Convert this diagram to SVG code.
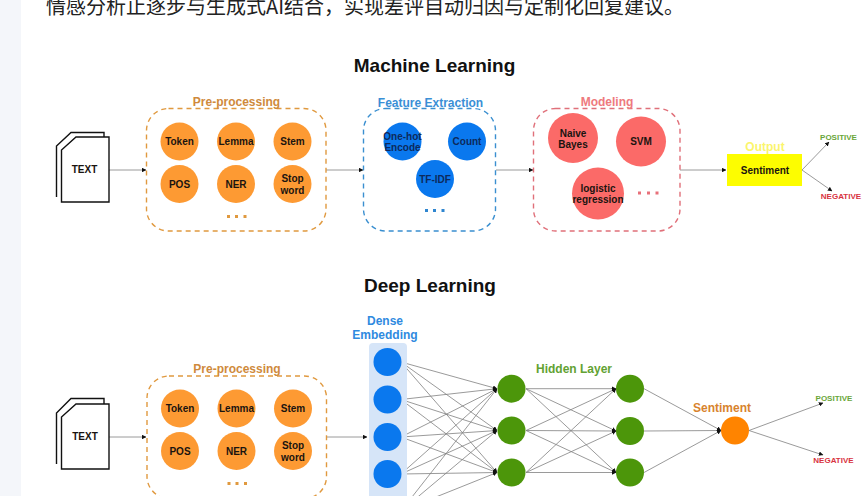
<svg xmlns="http://www.w3.org/2000/svg" width="863" height="496" viewBox="0 0 863 496">
<defs>
<marker id="a" viewBox="0 0 6 6" refX="5.500" refY="3" markerWidth="4.500" markerHeight="4.500" orient="auto" markerUnits="userSpaceOnUse"><path d="M0 0L6 3L0 6Z" fill="#111"/></marker>
</defs>
<style>
text{font-family:"Liberation Sans","Noto Sans CJK SC",sans-serif;font-weight:700;text-anchor:middle;fill:#1a1410}
.para{font-family:"Noto Sans CJK SC","Liberation Sans",sans-serif;font-weight:400;font-size:20px;text-anchor:start;fill:#222}
.title{font-size:19px;fill:#111}
.lab{font-size:12px}
.sm{font-size:10px}
.tiny{font-size:8px}
.doc{fill:#fff;stroke:#111;stroke-width:1.4}
.or{fill:#fd9a33}.bl{fill:#0a78ee}.re{fill:#fb6a68}.gr{fill:#4c960a}
.box{fill:none;stroke-width:1.4;stroke-dasharray:5 4}
.c{stroke:#808080;stroke-width:.8;fill:none;marker-end:url(#a)}
.navy{fill:#0d2a5c}
.pd{fill:#e0993f}.bd{fill:#2f86d0}.rd{fill:#e8707a}
</style>
<rect width="863" height="496" fill="#fff"/>
<rect width="21" height="496" fill="#f4f6fa"/>
<text class="para" x="46" y="14">情感分析止逐步与生成式AI结合，实现差评自动归因与定制化回复建议。</text>
<text class="title" x="434.500" y="72">Machine Learning</text>
<text class="title" x="430" y="292">Deep Learning</text>

<g id="connectors">
<g id="ml-connectors">
<path class="c" d="M109 170H146"/><path class="c" d="M326 170H363"/><path class="c" d="M496 170H533"/><path class="c" d="M680 170H726"/>
<path class="c" d="M802 170L829 142"/><path class="c" d="M802 170L832 191"/>
</g>
<g id="dl-connectors">
<path class="c" d="M109 437H146"/><path class="c" d="M326 437H367"/>
<path class="c" d="M401 362L497 388.700"/><path class="c" d="M401 362L497 430.500"/><path class="c" d="M401 362L497 472.500"/>
<path class="c" d="M401 399.500L497 388.700"/><path class="c" d="M401 399.500L497 430.500"/><path class="c" d="M401 399.500L497 472.500"/>
<path class="c" d="M401 437L497 388.700"/><path class="c" d="M401 437L497 430.500"/><path class="c" d="M401 437L497 472.500"/>
<path class="c" d="M401 474L497 388.700"/><path class="c" d="M401 474L497 430.500"/><path class="c" d="M401 474L497 472.500"/>
<path class="c" d="M401 511L497 388.700"/><path class="c" d="M401 511L497 430.500"/><path class="c" d="M401 511L497 472.500"/>
<path class="c" d="M526 388.700L616 388.700"/><path class="c" d="M526 388.700L616 431"/><path class="c" d="M526 388.700L616 472.500"/>
<path class="c" d="M526 430.500L616 388.700"/><path class="c" d="M526 430.500L616 431"/><path class="c" d="M526 430.500L616 472.500"/>
<path class="c" d="M526 472.500L616 388.700"/><path class="c" d="M526 472.500L616 431"/><path class="c" d="M526 472.500L616 472.500"/>
<path class="c" d="M644 388.700L721 430.500"/><path class="c" d="M644 431L721 430.500"/><path class="c" d="M644 472.500L721 430.500"/>
<path class="c" d="M749 430.500L823 403"/><path class="c" d="M749 430.500L823 455"/>
</g>
</g>

<g id="ml-text"><path class="doc" d="M56.500 197V146L71 132.500H104V137"/><path class="doc" d="M61.500 202V150L76 137H109V202Z"/><text class="sm" x="84.500" y="173">TEXT</text></g>

<g id="ml-preprocessing">
<rect class="box" x="146.500" y="108.500" width="179.500" height="122.500" rx="22" stroke="#e0993f"/>
<text class="lab" x="236.500" y="106" style="fill:#cf8a3c">Pre-processing</text>
<g id="ml-token"><circle class="or" cx="179.500" cy="141.500" r="19"/><text class="sm" x="179.500" y="145">Token</text></g>
<g id="ml-lemma"><circle class="or" cx="236" cy="141.500" r="19"/><text class="sm" x="236" y="145">Lemma</text></g>
<g id="ml-stem"><circle class="or" cx="292.500" cy="141.500" r="19"/><text class="sm" x="292.500" y="145">Stem</text></g>
<g id="ml-pos"><circle class="or" cx="179.500" cy="184" r="19"/><text class="sm" x="179.500" y="188">POS</text></g>
<g id="ml-ner"><circle class="or" cx="236" cy="184" r="19"/><text class="sm" x="236" y="188">NER</text></g>
<g id="ml-stopword"><circle class="or" cx="292.500" cy="184" r="19"/><text class="sm" x="292.500" y="182">Stop</text><text class="sm" x="292.500" y="193.500">word</text></g>
<g class="pd"><rect x="227" y="215" width="3" height="3"/><rect x="235" y="215" width="3" height="3"/><rect x="243.500" y="215" width="3" height="3"/></g>
</g>

<g id="ml-features">
<rect class="box" x="363.500" y="108.500" width="132" height="122.500" rx="22" stroke="#3a8fd0"/>
<text class="lab" x="430.500" y="107" style="fill:#3a8fd6">Feature Extraction</text>
<g id="ml-onehot"><circle class="bl" cx="402.500" cy="141.500" r="19"/><text class="sm navy" x="402.500" y="139.500">One-hot</text><text class="sm navy" x="402.500" y="150.500">Encode</text></g>
<g id="ml-count"><circle class="bl" cx="467" cy="141.500" r="19"/><text class="sm navy" x="467" y="145">Count</text></g>
<g id="ml-tfidf"><circle class="bl" cx="435" cy="179" r="19"/><text class="sm navy" x="435" y="183">TF-IDF</text></g>
<g class="bd"><rect x="425" y="209" width="3" height="3"/><rect x="433" y="209" width="3" height="3"/><rect x="441.500" y="209" width="3" height="3"/></g>
</g>

<g id="ml-modeling">
<rect class="box" x="533.500" y="108.500" width="146.500" height="122.500" rx="22" stroke="#e0707a"/>
<text class="lab" x="607" y="106" style="fill:#ee7a7e">Modeling</text>
<g id="ml-bayes"><circle class="re" cx="573" cy="138" r="25"/><text class="sm" x="573" y="136.500">Naive</text><text class="sm" x="573" y="147.500">Bayes</text></g>
<g id="ml-svm"><circle class="re" cx="641" cy="141.500" r="25"/><text class="sm" x="641" y="145">SVM</text></g>
<g id="ml-logistic"><circle class="re" cx="598" cy="193.500" r="26"/><text class="sm" x="598" y="192">logistic</text><text class="sm" x="598" y="203">regression</text></g>
<g class="rd"><rect x="638" y="191.500" width="3" height="3"/><rect x="647" y="191.500" width="3" height="3"/><rect x="655.500" y="191.500" width="3" height="3"/></g>
</g>

<g id="ml-output">
<rect x="727" y="154" width="75" height="32" fill="#fdfd00"/>
<text class="lab" x="765" y="151" style="fill:#fbf56c">Output</text>
<text class="sm" x="765" y="174">Sentiment</text>
</g>
<g id="ml-positive"><text class="tiny" x="838.500" y="140" style="fill:#6aa63a">POSITIVE</text></g>
<g id="ml-negative"><text class="tiny" x="841" y="199" style="fill:#d8333f">NEGATIVE</text></g>

<g id="dl-text"><path class="doc" d="M56.500 464V413L71 398.500H104V404"/><path class="doc" d="M61.500 469V417L76 404H109V469Z"/><text class="sm" x="85" y="440">TEXT</text></g>

<g id="dl-preprocessing">
<rect class="box" x="147" y="376" width="179.500" height="122.500" rx="22" stroke="#e0993f"/>
<text class="lab" x="237" y="373" style="fill:#cf8a3c">Pre-processing</text>
<g id="dl-token"><circle class="or" cx="180" cy="408.500" r="19"/><text class="sm" x="180" y="412">Token</text></g>
<g id="dl-lemma"><circle class="or" cx="236.500" cy="408.500" r="19"/><text class="sm" x="236.500" y="412">Lemma</text></g>
<g id="dl-stem"><circle class="or" cx="293" cy="408.500" r="19"/><text class="sm" x="293" y="412">Stem</text></g>
<g id="dl-pos"><circle class="or" cx="180" cy="451" r="19"/><text class="sm" x="180" y="455">POS</text></g>
<g id="dl-ner"><circle class="or" cx="236.500" cy="451" r="19"/><text class="sm" x="236.500" y="455">NER</text></g>
<g id="dl-stopword"><circle class="or" cx="293" cy="451" r="19"/><text class="sm" x="293" y="449">Stop</text><text class="sm" x="293" y="460.500">word</text></g>
<g class="pd"><rect x="227.500" y="482" width="3" height="3"/><rect x="235.500" y="482" width="3" height="3"/><rect x="244" y="482" width="3" height="3"/></g>
</g>

<g id="dl-embedding">
<rect x="369" y="343" width="38" height="170" rx="4" fill="#d6e5f8"/>
<text class="lab" x="385" y="325" style="fill:#2f8ae0">Dense</text>
<text class="lab" x="385" y="339" style="fill:#2f8ae0">Embedding</text>
<circle class="bl" cx="387.500" cy="362" r="14"/><circle class="bl" cx="387.500" cy="399.500" r="14"/><circle class="bl" cx="387.500" cy="437" r="14"/><circle class="bl" cx="387.500" cy="474" r="14"/><circle class="bl" cx="387.500" cy="511" r="14"/>
</g>

<g id="dl-hidden">
<text class="lab" x="574" y="373" style="fill:#62a233">Hidden Layer</text>
<circle class="gr" cx="511.500" cy="388.700" r="14"/><circle class="gr" cx="511.500" cy="430.500" r="14"/><circle class="gr" cx="511.500" cy="472.500" r="14"/>
<circle class="gr" cx="630" cy="388.700" r="14"/><circle class="gr" cx="630" cy="431" r="14"/><circle class="gr" cx="630" cy="472.500" r="14"/>
</g>

<g id="dl-sentiment">
<text class="lab" x="722" y="412" style="fill:#d8832e">Sentiment</text>
<circle cx="735" cy="430.500" r="14" fill="#ff8400"/>
</g>
<g id="dl-positive"><text class="tiny" x="834" y="401" style="fill:#6aa63a">POSITIVE</text></g>
<g id="dl-negative"><text class="tiny" x="833.500" y="463" style="fill:#d8333f">NEGATIVE</text></g>
</svg>
